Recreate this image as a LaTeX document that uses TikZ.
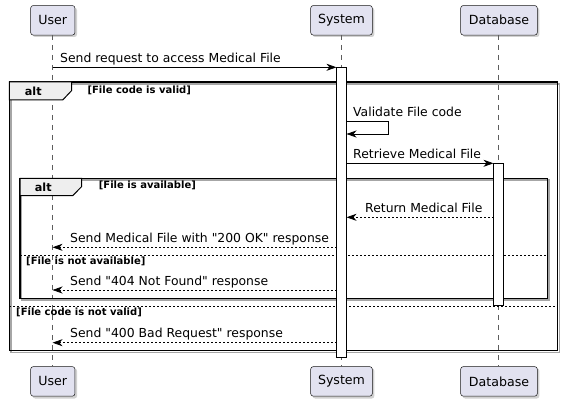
\documentclass[tikz,border=0pt]{standalone}
\usepackage{fontspec}
\setmainfont{DejaVu Sans}[Ligatures=TeXOff]
\usetikzlibrary{arrows.meta}
\definecolor{partfill}{HTML}{E2E2F0}
\definecolor{partline}{HTML}{181818}
\definecolor{tabfill}{HTML}{EEEEEE}
\begin{document}
\begin{tikzpicture}[x=1pt,y=-1pt,
  part/.style={draw=partline, fill=partfill, rounded corners=2.5pt, line width=0.5pt,
    minimum height=29.5pt, inner sep=0pt, font=\fontsize{12.6}{14}\selectfont},
  partshadow/.style={fill=black!18, rounded corners=2.5pt},
  life/.style={draw=partline!70, line width=0.5pt, dash pattern=on 5pt off 5pt},
  actbar/.style={draw=black, fill=white, line width=0.8pt},
  msg/.style={draw=black, line width=0.8pt, -{Stealth[length=10pt,width=7pt,inset=3pt]}},
  reply/.style={msg, dash pattern=on 2pt off 2pt},
  mlabel/.style={anchor=base west, inner sep=0pt, font=\fontsize{12.4}{14}\selectfont},
  guard/.style={anchor=base west, inner sep=0pt, font=\bfseries\fontsize{10}{12}\selectfont},
  tablabel/.style={anchor=base, inner sep=0pt, font=\bfseries\fontsize{11.2}{13}\selectfont},
  frameline/.style={draw=black, line width=1.5pt},
  frameshadow/.style={draw=black!35, line width=1.5pt},
  sepline/.style={draw=black, line width=0.6pt, dash pattern=on 2pt off 2pt},
  tabshape/.style={draw=black, fill=tabfill, line width=1pt, line join=miter}
]
\useasboundingbox (0,0) rectangle (563,401);

% participant shadows
\fill[partshadow] (32.7,7.7) rectangle (77,37);
\fill[partshadow] (312.7,7.7) rectangle (374.3,37);
\fill[partshadow] (462.7,7.7) rectangle (539.3,37);
\fill[partshadow] (32.7,368.3) rectangle (77,398.5);
\fill[partshadow] (312.7,368.3) rectangle (374.3,398.5);
\fill[partshadow] (462.7,368.3) rectangle (539.3,398.5);

% participants
\node[part, minimum width=44.3pt] (usertop) at (52.8,20.3) {User};
\node[part, minimum width=61.6pt] (systop) at (341.5,20.3) {System};
\node[part, minimum width=76.6pt] (dbtop) at (499,20.3) {Database};
\node[part, minimum width=44.3pt] (userbot) at (52.8,381.4) {User};
\node[part, minimum width=61.6pt] (sysbot) at (341.5,381.4) {System};
\node[part, minimum width=76.6pt] (dbbot) at (499,381.4) {Database};

% lifelines
\coordinate (ul1) at (52.5,35); \coordinate (ul2) at (52.5,366.3);
\coordinate (sl1) at (341.5,35); \coordinate (sl2) at (341.5,366.3);
\coordinate (dl1) at (498.5,35); \coordinate (dl2) at (498.5,366.3);
\draw[life] (ul1) -- (ul2);
\draw[life] (sl1) -- (sl2);
\draw[life] (dl1) -- (dl2);

% outer alt frame
\draw[frameshadow] (11,84) rectangle (559.4,352.4);
\draw[frameline] (9.3,82) rectangle (557.7,350.7);
\draw[tabshape] (9.3,82) -- (71.7,82) -- (71.7,90.5) -- (62.7,100) -- (9.3,100) -- cycle;
\node[tablabel] (alt1) at (33.3,95.5) {alt};
\node[guard] (g1) at (87.3,93.8) {[File code is valid]};
\coordinate (s1a) at (9.3,306); \coordinate (s1b) at (557.7,306);
\draw[sepline] (s1a) -- (s1b);
\node[guard] (g4) at (16,315.6) {[File code is not valid]};

% inner alt frame
\draw[frameshadow] (21.7,180) rectangle (549,300);
\draw[frameline] (20,178.3) rectangle (547.3,298.3);
\draw[tabshape] (20,178.3) -- (81.7,178.3) -- (81.7,186.5) -- (72.7,195.7) -- (20,195.7) -- cycle;
\node[tablabel] (alt2) at (43.3,191.6) {alt};
\node[guard] (g2) at (98.7,189) {[File is available]};
\coordinate (s2a) at (20,255.5); \coordinate (s2b) at (547.3,255.5);
\draw[sepline] (s2a) -- (s2b);
\node[guard] (g3) at (26,264.8) {[File is not available]};

% activation bars
\draw[actbar] (336.5,67.3) rectangle (346.5,357.3);
\draw[actbar] (493.5,163.3) rectangle (503.5,305);

% message endpoints
\coordinate (m1a) at (52.5,67.3);  \coordinate (m1b) at (336.5,67.3);
\coordinate (m2a) at (346.5,121.7); \coordinate (m2b) at (388.3,121.7);
\coordinate (m2c) at (388.3,134);  \coordinate (m2d) at (346.5,134);
\coordinate (m3a) at (346.5,163.3); \coordinate (m3b) at (493.5,163.3);
\coordinate (m4a) at (493.5,217.3); \coordinate (m4b) at (346.5,217.3);
\coordinate (m5a) at (336.5,247.3); \coordinate (m5b) at (52.5,247.3);
\coordinate (m6a) at (336.5,290);  \coordinate (m6b) at (52.5,290);
\coordinate (m7a) at (336.5,342.7); \coordinate (m7b) at (52.5,342.7);

\draw[msg] (m1a) -- (m1b);
\node[mlabel] (l1) at (60,62.3) {Send request to access Medical File};
\draw[msg] (m2a) -- (m2b) -- (m2c) -- (m2d);
\node[mlabel] (l2) at (353,116.7) {Validate File code};
\draw[msg] (m3a) -- (m3b);
\node[mlabel] (l3) at (353,158.3) {Retrieve Medical File};
\draw[reply] (m4a) -- (m4b);
\node[mlabel] (l4) at (365,212.3) {Return Medical File};
\draw[reply] (m5a) -- (m5b);
\node[mlabel] (l5) at (70,242.6) {Send Medical File with "200 OK" response};
\draw[reply] (m6a) -- (m6b);
\node[mlabel] (l6) at (70,285.2) {Send "404 Not Found" response};
\draw[reply] (m7a) -- (m7b);
\node[mlabel] (l7) at (70,337.9) {Send "400 Bad Request" response};
\end{tikzpicture}
\end{document}
